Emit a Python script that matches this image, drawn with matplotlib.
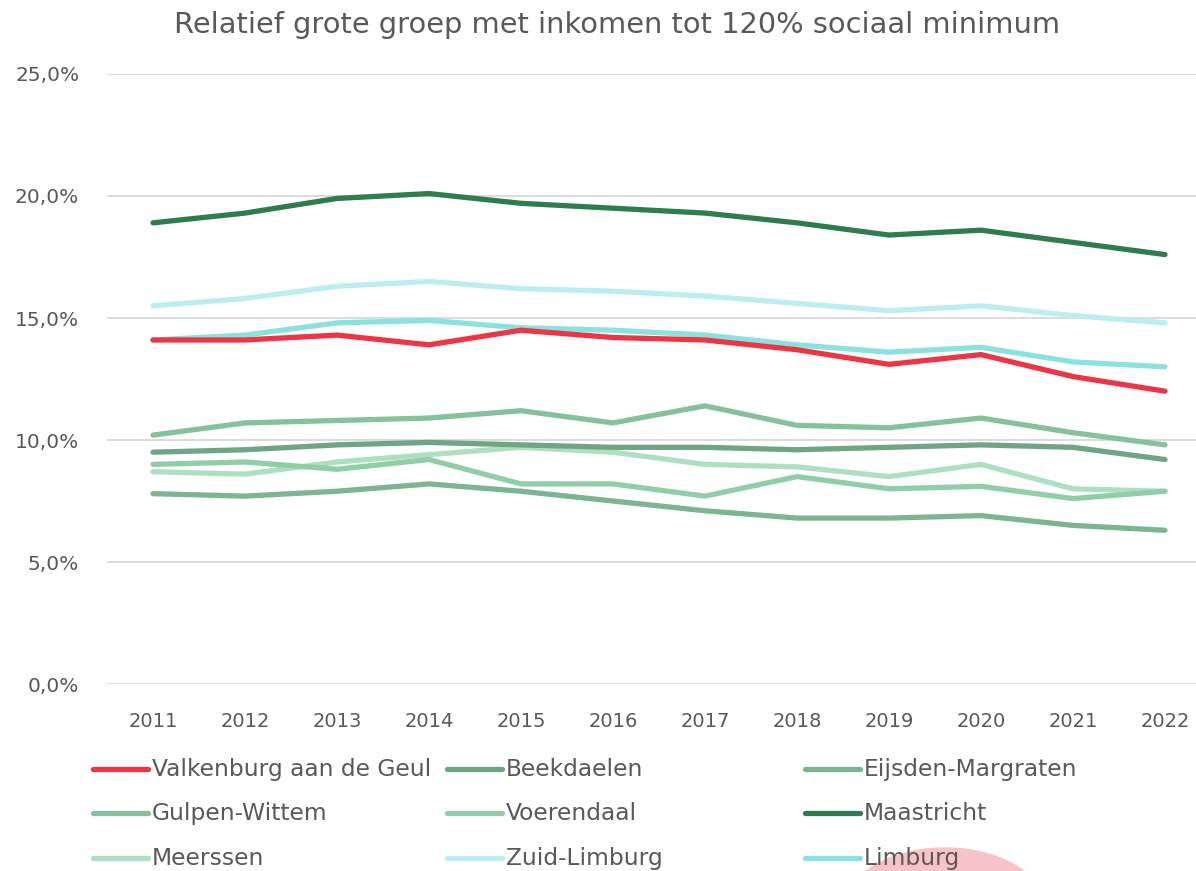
import numpy as np
import matplotlib
matplotlib.use("Agg")
import matplotlib.pyplot as plt
from matplotlib.lines import Line2D
from matplotlib.patches import Ellipse
from matplotlib.ticker import FuncFormatter

plt.rcParams['font.family'] = ['DejaVu Sans']

TITLE = "Relatief grote groep met inkomen tot 120% sociaal minimum"
years = list(range(2011, 2023))

# percentages
valkenburg = [14.1, 14.1, 14.3, 13.9, 14.5, 14.2, 14.1, 13.7, 13.1, 13.5, 12.6, 12.0]
beekdaelen = [9.5, 9.6, 9.8, 9.9, 9.8, 9.7, 9.7, 9.6, 9.7, 9.8, 9.7, 9.2]
eijsden = [7.8, 7.7, 7.9, 8.2, 7.9, 7.5, 7.1, 6.8, 6.8, 6.9, 6.5, 6.3]
gulpen = [10.2, 10.7, 10.8, 10.9, 11.2, 10.7, 11.4, 10.6, 10.5, 10.9, 10.3, 9.8]
voerendaal = [9.0, 9.1, 8.8, 9.2, 8.2, 8.2, 7.7, 8.5, 8.0, 8.1, 7.6, 7.9]
maastricht = [18.9, 19.3, 19.9, 20.1, 19.7, 19.5, 19.3, 18.9, 18.4, 18.6, 18.1, 17.6]
meerssen = [8.7, 8.6, 9.1, 9.4, 9.7, 9.5, 9.0, 8.9, 8.5, 9.0, 8.0, 7.9]
zuid_limburg = [15.5, 15.8, 16.3, 16.5, 16.2, 16.1, 15.9, 15.6, 15.3, 15.5, 15.1, 14.8]
limburg = [14.1, 14.3, 14.8, 14.9, 14.6, 14.5, 14.3, 13.9, 13.6, 13.8, 13.2, 13.0]

series = [
    ("Valkenburg aan de Geul", valkenburg, '#ee3546'),
    ("Beekdaelen", beekdaelen, '#6fa584'),
    ("Eijsden-Margraten", eijsden, '#7bb592'),
    ("Gulpen-Wittem", gulpen, '#84c19c'),
    ("Voerendaal", voerendaal, '#8fcea7'),
    ("Maastricht", maastricht, '#2e7d4f'),
    ("Meerssen", meerssen, '#aedfc1'),
    ("Zuid-Limburg", zuid_limburg, '#bdeeee'),
    ("Limburg", limburg, '#8ae2e0'),
]
# drawing order: back to front
draw_order = [6, 4, 2, 1, 3, 7, 8, 0, 5]

TXT = '#595959'
W, H = 1196, 871
fig = plt.figure(figsize=(W / 100, H / 100), dpi=100)

# pink decoration peeking in at the bottom
fig.add_artist(Ellipse((945 / W, 1 - 908 / H), 200 / W, 120 / H,
                       transform=fig.transFigure, color='#f8c3c7', zorder=0))

ax = fig.add_axes([107 / W, 187 / H, 1104 / W, 610 / H])
ax.set_facecolor('none')
for i in draw_order:
    name, vals, col = series[i]
    ax.plot(years, vals, color=col, lw=3.8, solid_capstyle='round',
            solid_joinstyle='round', zorder=3)

ax.set_xlim(2010.5, 2022.5)
ax.set_ylim(0, 25)
ax.set_yticks(np.arange(0, 26, 5))
ax.yaxis.set_major_formatter(FuncFormatter(lambda v, p: f"{v:.1f}%".replace('.', ',')))
ax.set_xticks(years)
ax.grid(axis='y', color='#d9d9d9', lw=1.3)
ax.set_axisbelow(True)
for s in ax.spines.values():
    s.set_visible(False)
ax.tick_params(length=0, colors=TXT, labelsize=14)
ax.tick_params(axis='y', pad=20, labelsize=14.5)
ax.tick_params(axis='x', pad=20)

fig.text(617 / W, 1 - 25 / H, TITLE, ha='center', va='center',
         fontsize=20.8, color=TXT)

# legend laid out like the original, three equal columns
col_x = [93, 447, 805]
row_y = [769, 813, 858]
for k, (name, vals, col) in enumerate(series):
    x0 = col_x[k % 3]
    y0 = 1 - row_y[k // 3] / H
    fig.add_artist(Line2D([x0 / W, (x0 + 55) / W], [y0, y0], color=col,
                          lw=3.8, solid_capstyle='round',
                          transform=fig.transFigure))
    fig.text((x0 + 59) / W, y0, name, ha='left', va='center',
             fontsize=16.8, color=TXT)

fig.savefig("out.png", dpi=100)
